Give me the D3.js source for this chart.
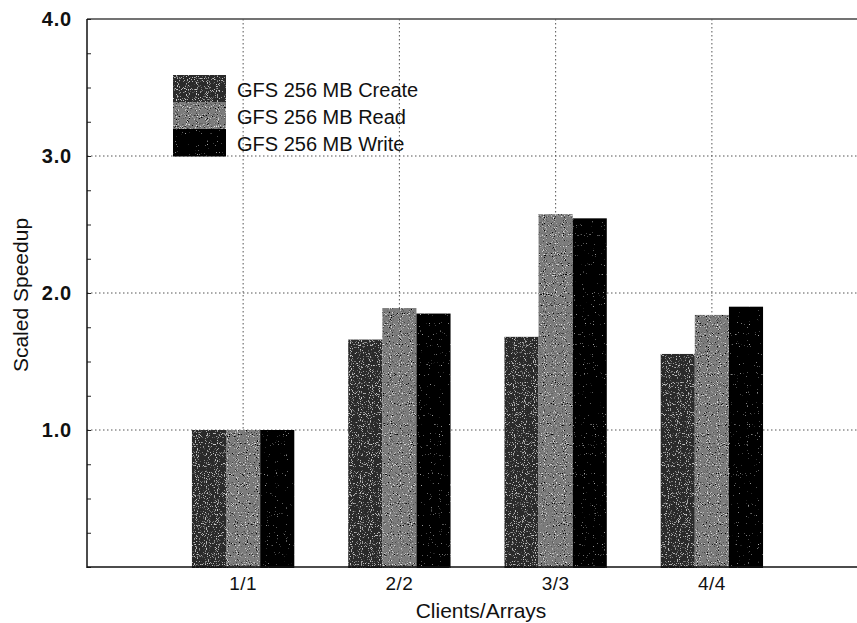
<!DOCTYPE html>
<meta charset="utf-8">
<style>
body { margin: 0; background: #fff; }
text { font-family: "Liberation Sans", Arial, Helvetica, sans-serif; fill: #111; }
.grid line { stroke: #555; stroke-width: 1; stroke-dasharray: 1.5,2.5; }
.tick-lbl { font-size: 20px; font-weight: bold; letter-spacing: 0.8px; }
.xtick-lbl { font-size: 19px; letter-spacing: 0.5px; }
</style>
<svg width="857" height="623"></svg>
<script src="https://d3js.org/d3.v7.min.js"></script>
<script>
// chart data
var categories = ["1/1", "2/2", "3/3", "4/4"];
var seriesNames = ["GFS 256 MB Create", "GFS 256 MB Read", "GFS 256 MB Write"];
var createVals = [1.0, 1.66, 1.68, 1.555];
var readVals   = [1.0, 1.89, 2.575, 1.84];
var writeVals  = [1.0, 1.85, 2.545, 1.90];
var yLabels = [1, 2, 3, 4];

var svg = d3.select("svg");
var plotL = 87, plotR = 868, plotT = 19, plotB = 567;

var y = d3.scaleLinear().domain([0, 4]).range([plotB, plotT]);
var x0 = d3.scaleBand().domain(categories)
    .range([plotL + 78, plotR - 78])
    .paddingInner(0.345).paddingOuter(0.1725);
var x1 = d3.scaleBand().domain(d3.range(3)).range([0, x0.bandwidth()]);

// speckled fills, like the halftone of the scan
var defs = svg.append("defs");
function speckle(id, lightCol, lightThr, darkThr, seed) {
  var f = defs.append("filter").attr("id", id)
      .attr("x", 0).attr("y", 0).attr("width", 1).attr("height", 1);
  f.append("feTurbulence").attr("type", "fractalNoise")
      .attr("baseFrequency", 0.9).attr("numOctaves", 1).attr("seed", seed).attr("result", "n");
  f.append("feColorMatrix").attr("in", "n").attr("type", "matrix")
      .attr("values", "0 0 0 0 " + lightCol + " 0 0 0 0 " + lightCol + " 0 0 0 0 " + lightCol +
            " 7 0 0 0 " + (-7 * lightThr)).attr("result", "lt");
  f.append("feColorMatrix").attr("in", "n").attr("type", "matrix")
      .attr("values", "0 0 0 0 0 0 0 0 0 0 0 0 0 0 0 -7 0 0 0 " + (7 * darkThr)).attr("result", "dk");
  f.append("feComposite").attr("in", "lt").attr("in2", "SourceGraphic").attr("operator", "in").attr("result", "ltc");
  f.append("feComposite").attr("in", "dk").attr("in2", "SourceGraphic").attr("operator", "in").attr("result", "dkc");
  var m = f.append("feMerge");
  m.append("feMergeNode").attr("in", "SourceGraphic");
  m.append("feMergeNode").attr("in", "ltc");
  m.append("feMergeNode").attr("in", "dkc");
}
speckle("sp0", 0.6, 0.58, 0.0, 3);
speckle("sp1", 0.8, 0.6, 0.42, 7);
speckle("sp2", 0.45, 0.7, 0.0, 11);
var fills = ["#2a2a2a", "#7b7b7b", "#060606"];

// frame top
svg.append("line").attr("x1", plotL).attr("x2", plotR).attr("y1", plotT).attr("y2", plotT)
   .attr("stroke", "#444").attr("stroke-width", 1.5);

// grid
var grid = svg.append("g").attr("class", "grid");
grid.selectAll(".h").data([1, 2, 3]).enter().append("line")
    .attr("x1", plotL).attr("x2", plotR)
    .attr("y1", function(d) { return y(d); }).attr("y2", function(d) { return y(d); });
grid.selectAll(".v").data(categories).enter().append("line")
    .attr("x1", function(d) { return x0(d) + x0.bandwidth() / 2; })
    .attr("x2", function(d) { return x0(d) + x0.bandwidth() / 2; })
    .attr("y1", plotT).attr("y2", plotB);

// bars
var rows = categories.map(function(c, i) {
  return { cat: c, vals: [createVals[i], readVals[i], writeVals[i]] };
});
var groups = svg.append("g").selectAll("g").data(rows).enter().append("g")
    .attr("transform", function(d) { return "translate(" + x0(d.cat) + ",0)"; });
groups.selectAll("rect").data(function(d) { return d.vals; }).enter().append("rect")
    .attr("x", function(d, i) { return x1(i); })
    .attr("width", x1.bandwidth())
    .attr("y", function(d) { return y(d); })
    .attr("height", function(d) { return y(0) - y(d) + 1; })
    .attr("fill", function(d, i) { return fills[i]; })
    .attr("filter", function(d, i) { return "url(#sp" + i + ")"; });

// y axis: inward minor ticks every 0.25
var yAxis = d3.axisLeft(y).tickValues(d3.range(0, 4.01, 0.25)).tickSize(-4).tickPadding(15)
    .tickFormat(function(d) { return yLabels.indexOf(d) >= 0 ? d3.format(".1f")(d) : ""; });
var ya = svg.append("g").attr("transform", "translate(" + plotL + ",0)").call(yAxis);
ya.select(".domain").remove();
ya.selectAll("line").attr("stroke", "#222");
ya.selectAll("text").attr("class", "tick-lbl").attr("fill", "#111");
svg.append("line").attr("x1", plotL).attr("x2", plotL).attr("y1", plotT).attr("y2", plotB + 1)
   .attr("stroke", "#111").attr("stroke-width", 1.5);

// x axis
var xAxis = d3.axisBottom(x0).tickSize(0).tickPadding(10);
var xa = svg.append("g").attr("transform", "translate(0," + plotB + ")").call(xAxis);
xa.select(".domain").remove();
xa.selectAll("text").attr("class", "xtick-lbl").attr("fill", "#111");
svg.append("line").attr("x1", plotL).attr("x2", plotR).attr("y1", plotB).attr("y2", plotB)
   .attr("stroke", "#111").attr("stroke-width", 1.5);

// axis titles
svg.append("text").attr("x", 481).attr("y", 618).attr("text-anchor", "middle")
   .style("font-size", "21px").text("Clients/Arrays");
svg.append("text").attr("transform", "translate(28,295) rotate(-90)").attr("text-anchor", "middle")
   .style("font-size", "21px").text("Scaled Speedup");

// legend
var legend = svg.append("g").attr("transform", "translate(173,75)");
var lg = legend.selectAll("g").data(seriesNames).enter().append("g")
    .attr("transform", function(d, i) { return "translate(0," + i * 27 + ")"; });
lg.append("rect").attr("width", 53).attr("height", 27.5)
    .attr("fill", function(d, i) { return fills[i]; })
    .attr("filter", function(d, i) { return "url(#sp" + i + ")"; });
lg.append("text").attr("x", 64).attr("y", 22).style("font-size", "20px")
    .text(function(d) { return d; });
</script>
